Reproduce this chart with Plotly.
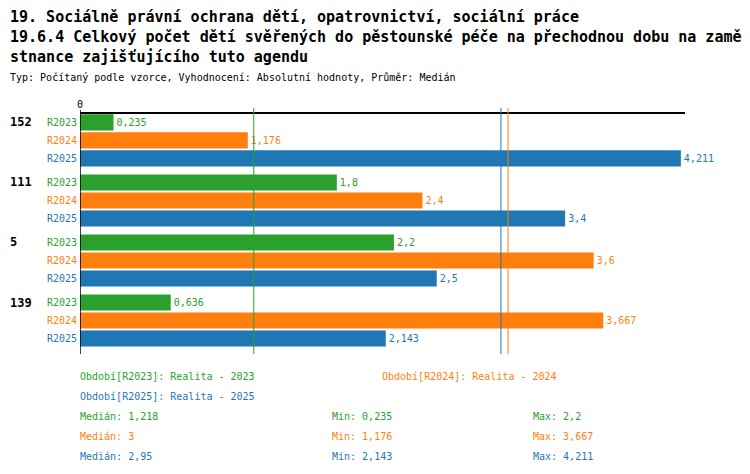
import numpy as np
import plotly.graph_objects as go

# data
groups = ["152", "111", "5", "139"]
periods = ["R2023", "R2024", "R2025"]
period_names = ["Realita - 2023", "Realita - 2024", "Realita - 2025"]
colors = ["#2ca02c", "#ff7f0e", "#1f77b4"]
r2023 = [0.235, 1.8, 2.2, 0.636]
r2024 = [1.176, 2.4, 3.6, 3.667]
r2025 = [4.211, 3.4, 2.5, 2.143]
series = [r2023, r2024, r2025]

title_lines = [
    "19. Sociálně právní ochrana dětí, opatrovnictví, sociální práce",
    "19.6.4 Celkový počet dětí svěřených do pěstounské péče na přechodnou dobu na zamě",
    "stnance zajišťujícího tuto agendu",
]
subtitle = "Typ: Počítaný podle vzorce, Vyhodnocení: Absolutní hodnoty, Průměr: Medián"

FONT = "DejaVu Sans Mono"
OFF = 8  # page body margin
W, H = 750 - OFF, 474 - OFF
L, R, T, B = 80 - OFF, 65, 114 - OFF, 120
PW, PH = W - L - R, H - T - B
GROUP_STEP = 10 / 3


def fmt(v):
    return f"{v:g}".replace(".", ",")


# helpers take page pixel coordinates
def px_x(px):
    return (px - OFF - L) / PW


def px_y(py):
    return (H - B - (py - OFF)) / PH


def row_pos(g, s):
    return g * GROUP_STEP + s


fig = go.Figure()
for s, (vals, per, col) in enumerate(zip(series, periods, colors)):
    fig.add_trace(go.Bar(
        x=vals,
        y=[row_pos(g, s) for g in range(len(groups))],
        orientation="h",
        width=0.9,
        marker=dict(color=col, line=dict(width=0)),
        text=[fmt(v) for v in vals],
        textposition="outside",
        textfont=dict(color=col, size=10, family=FONT),
        constraintext="none",
        cliponaxis=False,
        name=per,
        showlegend=False,
    ))

ann = []
for i, line in enumerate(title_lines):
    ann.append(dict(text=line, x=px_x(OFF), y=px_y([17, 37, 57][i]), xref="paper", yref="paper",
                    xanchor="left", yanchor="middle", showarrow=False,
                    font=dict(size=15, family=FONT, color="black", weight="bold")))
ann.append(dict(text=subtitle, x=px_x(OFF), y=px_y(77), xref="paper", yref="paper",
                xanchor="left", yanchor="middle", showarrow=False,
                font=dict(size=10, family=FONT, color="black")))

for g, name in enumerate(groups):
    ann.append(dict(text="<b>" + name + "</b>", x=px_x(8), y=row_pos(g, 0), xref="paper", yref="y",
                    xanchor="left", yanchor="middle", showarrow=False,
                    font=dict(size=12, family=FONT, color="black")))
    for s, per in enumerate(periods):
        ann.append(dict(text=per, x=px_x(79), y=row_pos(g, s), xref="paper", yref="y",
                        xanchor="right", yanchor="middle", showarrow=False,
                        font=dict(size=10, family=FONT, color=colors[s])))

# legend-like text below the chart
legend_pos = [(78, 376), (380, 376), (78, 396)]
for s, per in enumerate(periods):
    lx, ly = legend_pos[s]
    ann.append(dict(text=f"Období[{per}]: {period_names[s]}", x=px_x(lx), y=px_y(ly),
                    xref="paper", yref="paper", xanchor="left", yanchor="middle", showarrow=False,
                    font=dict(size=10, family=FONT, color=colors[s])))

shapes = []
for s, vals in enumerate(series):
    med, mn, mx = np.median(vals), min(vals), max(vals)
    ly = 416 + 20 * s
    for lx, label in [(78, "Medián: " + fmt(med)), (330, "Min: " + fmt(mn)), (531, "Max: " + fmt(mx))]:
        ann.append(dict(text=label, x=px_x(lx), y=px_y(ly), xref="paper", yref="paper",
                        xanchor="left", yanchor="middle", showarrow=False,
                        font=dict(size=10, family=FONT, color=colors[s])))
    shapes.append(dict(type="line", xref="x", yref="paper", x0=med, x1=med, y0=0, y1=px_y(108),
                       line=dict(color=colors[s], width=1)))

shapes.append(dict(type="line", xref="x", yref="paper", x0=0, x1=0, y0=0, y1=px_y(110),
                   line=dict(color="black", width=1.5)))

fig.update_layout(
    width=W, height=H,
    margin=dict(l=L, r=R, t=T, b=B),
    plot_bgcolor="white", paper_bgcolor="white",
    font=dict(family=FONT, size=10, color="black"),
    barmode="overlay",
    annotations=ann,
    shapes=shapes,
    xaxis=dict(range=[0, 4.24], side="top", showline=True, linecolor="black", linewidth=1.5,
               tickvals=[0], ticktext=["0"], ticks="", showgrid=False, zeroline=False,
               tickfont=dict(size=10, family=FONT)),
    yaxis=dict(range=[12.86, -0.47], showticklabels=False, showgrid=False, zeroline=False,
               showline=False),
)

fig.write_html("out.html")
